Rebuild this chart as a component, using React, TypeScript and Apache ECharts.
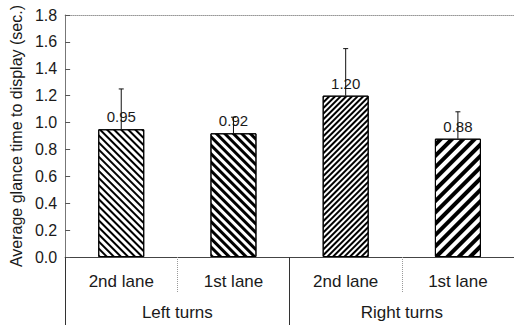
import React, { useEffect, useRef } from "react";
import * as echarts from "echarts";

const laneLabels = ["2nd lane", "1st lane", "2nd lane", "1st lane"];
const turnLabels = ["Left turns", "Right turns"];
const meanValues = [0.95, 0.92, 1.2, 0.88];
const errorTops = [1.25, 1.04, 1.55, 1.08];
const yTicks = { min: 0, max: 1.8, interval: 0.2 };

const FONT = "'Liberation Sans', Arial, sans-serif";
const TXT = "#1a1a1a";

const decals = [
  { symbol: "rect", symbolSize: 1, dashArrayX: [1, 0], dashArrayY: [1.4, 2.1], rotation: Math.PI / 4, color: "#000", backgroundColor: "#fff" },
  { symbol: "rect", symbolSize: 1, dashArrayX: [1, 0], dashArrayY: [2.8, 2.7], rotation: Math.PI / 4, color: "#000", backgroundColor: "#fff" },
  { symbol: "rect", symbolSize: 1, dashArrayX: [1, 0], dashArrayY: [1.2, 1.7], rotation: -Math.PI / 4, color: "#000", backgroundColor: "#fff" },
  { symbol: "rect", symbolSize: 1, dashArrayX: [1, 0], dashArrayY: [3.2, 3.2], rotation: -Math.PI / 4, color: "#000", backgroundColor: "#fff" },
];

export default function App() {
  const ref = useRef<HTMLDivElement>(null);
  useEffect(() => {
    if (!ref.current) return;
    const chart = echarts.init(ref.current, undefined, { renderer: "svg" });
    chart.setOption({
      animation: false,
      backgroundColor: "#fff",
      grid: { left: 63, right: 0, top: 15, bottom: 68 },
      xAxis: [
        {
          type: "category",
          data: laneLabels,
          position: "bottom",
          axisLine: { show: true, onZero: false, lineStyle: { color: "#444", width: 1 } },
          axisTick: { show: true, interval: 0, length: 35, lineStyle: { color: "#999", type: "dotted" } },
          axisLabel: { interval: 0, margin: 16, fontSize: 17, color: TXT, fontFamily: FONT },
        },
        {
          type: "category",
          data: turnLabels,
          position: "bottom",
          axisLine: { show: false, onZero: false },
          axisTick: { show: true, interval: 0, length: 68, lineStyle: { color: "#333" } },
          axisLabel: { interval: 0, margin: 47, fontSize: 17, color: TXT, fontFamily: FONT },
        },
        {
          type: "category",
          data: laneLabels,
          position: "top",
          axisLine: { show: true, onZero: false, lineStyle: { color: "#999", type: "dotted" } },
          axisTick: { show: false },
          axisLabel: { show: false },
        },
      ],
      yAxis: {
        type: "value",
        min: yTicks.min,
        max: yTicks.max,
        interval: yTicks.interval,
        name: "Average glance time to display (sec.)",
        nameLocation: "middle",
        nameGap: 41,
        nameTextStyle: { fontSize: 16, color: TXT, fontFamily: FONT },
        axisLine: { show: true, lineStyle: { color: "#777" } },
        axisTick: { show: true, inside: true, length: 5, lineStyle: { color: "#555" } },
        axisLabel: { margin: 8, fontSize: 16, color: TXT, fontFamily: FONT, formatter: (v: number) => v.toFixed(1) },
        splitLine: { show: false },
      },
      series: [
        {
          type: "bar",
          xAxisIndex: 0,
          barWidth: 46,
          data: meanValues.map((v, i) => ({
            value: v,
            itemStyle: { color: "#fff", borderColor: "#000", borderWidth: 1, decal: decals[i] },
          })),
          label: {
            show: true,
            position: "top",
            distance: 5,
            fontSize: 15,
            color: TXT,
            fontFamily: FONT,
            formatter: (p: any) => p.value.toFixed(2),
          },
        },
        {
          type: "custom",
          xAxisIndex: 0,
          z: 10,
          data: meanValues.map((v, i) => [i, v, errorTops[i]]),
          encode: { x: 0, y: [1, 2] },
          renderItem: (params: any, api: any) => {
            const x = api.value(0);
            const p1 = api.coord([x, api.value(1)]);
            const p2 = api.coord([x, api.value(2)]);
            return {
              type: "group",
              children: [
                { type: "line", shape: { x1: p1[0], y1: p1[1], x2: p2[0], y2: p2[1] }, style: { stroke: "#111", lineWidth: 1 } },
                { type: "line", shape: { x1: p2[0] - 2.5, y1: p2[1], x2: p2[0] + 2.5, y2: p2[1] }, style: { stroke: "#111", lineWidth: 1 } },
              ],
            };
          },
        },
      ],
    });
    return () => chart.dispose();
  }, []);
  return <div ref={ref} style={{ position: "fixed", left: 0, top: 0, width: 514, height: 325 }} />;
}
